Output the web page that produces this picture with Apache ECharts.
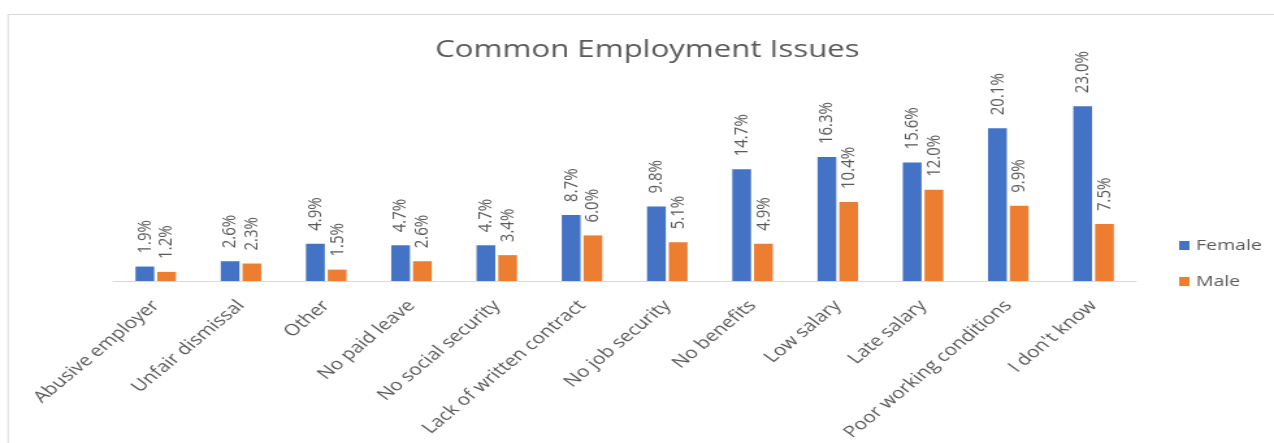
<!DOCTYPE html>
<html><head><meta charset="utf-8">
<script src="https://cdn.jsdelivr.net/npm/echarts@6/dist/echarts.min.js"></script>
<style>
html,body{margin:0;padding:0;background:#fff;overflow:hidden}
#wrap{width:1274px;height:443px;overflow:hidden}
#c{width:980px;height:443px;transform:scaleX(1.3);transform-origin:0 0}
</style>
</head><body><div id="wrap"><div id="c"></div></div>
<script>
const categories = ["Abusive employer","Unfair dismissal","Other","No paid leave","No social security","Lack of written contract","No job security","No benefits","Low salary","Late salary","Poor working conditions","I don't know"];
const female = [1.9,2.6,4.9,4.7,4.7,8.7,9.8,14.7,16.3,15.6,20.1,23.0];
const male = [1.2,2.3,1.5,2.6,3.4,6.0,5.1,4.9,10.4,12.0,9.9,7.5];
const seriesNames = ["Female","Male"];

const chart = echarts.init(document.getElementById('c'));
const font = "'Open Sans', 'Liberation Sans', sans-serif";
const lbl = {
  show: true, position: 'top', rotate: 90, align: 'left', verticalAlign: 'middle',
  distance: 13, color: '#595959', fontSize: 15, fontFamily: font,
  formatter: p => p.value.toFixed(1) + '%'
};
chart.setOption({
  animation: false,
  graphic: [{type:'rect', shape:{x:6.2,y:14.5,width:1000,height:440}, style:{fill:'none', stroke:'#d9d9d9', lineWidth:1}}],
  title: {text: 'Common Employment Issues', left: 493, textAlign: 'center', top: 33,
    textStyle:{color:'#595959', fontSize:24, fontWeight:'normal', fontFamily: font}},
  legend: {orient:'vertical', left: 902, top: 233, itemWidth: 8, itemHeight: 9, itemGap: 21,
    icon: 'rect', textStyle:{color:'#595959', fontSize:15, fontFamily: font}, data: seriesNames},
  grid: {left: 87, right: 106, top: 91, bottom: 162},
  xAxis: {type:'category', data: categories,
    axisLine:{lineStyle:{color:'#d9d9d9'}}, axisTick:{show:false},
    axisLabel:{rotate:47, color:'#595959', fontSize:16, fontFamily: font, interval:0, margin:22}},
  yAxis: {type:'value', min:0, max:25, show:false},
  series: [
    {name: seriesNames[0], type:'bar', data: female, barWidth: '22%', barGap: '16%', itemStyle:{color:'#4472C4'}, label: lbl},
    {name: seriesNames[1], type:'bar', data: male, barWidth: '22%', itemStyle:{color:'#ED7D31'}, label: lbl}
  ]
});
</script></body></html>
